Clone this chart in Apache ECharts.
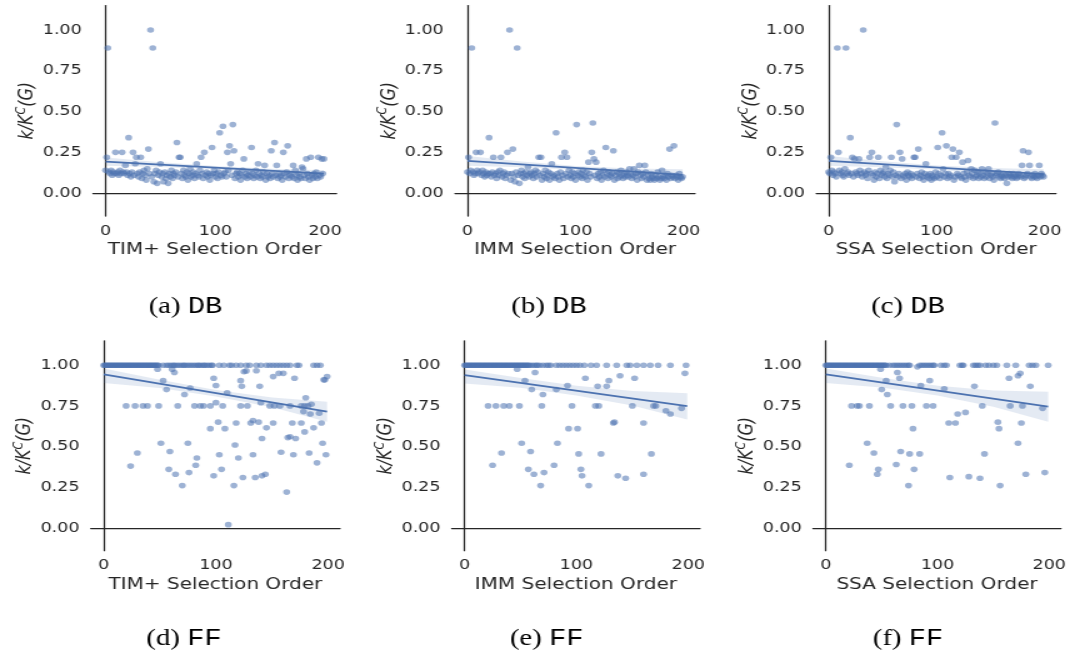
<!DOCTYPE html>
<html lang="en">
<head>
<meta charset="UTF-8">
<title>Selection order vs k/K^C(G)</title>
<script src="https://cdn.jsdelivr.net/npm/echarts@6.0.0/dist/echarts.min.js"></script>
<style>
  html, body { margin: 0; padding: 0; background: #fff; overflow: hidden; }
  /* the source figure is stretched sideways, so the chart is drawn narrow and widened */
  #chart { width: 858.4px; height: 657px; transform: scaleX(1.25); transform-origin: 0 0; }
</style>
</head>
<body>
<div id="chart"></div>
<script>
// k/K^C(G) for every seed, indexed by selection order (DB network)
var dbTim = [
  .14, .22, .89, .13, .12, .14, .11, .13, .12, .25,
  .12, .13, .11, .14, .12, .25, .13, .12, .17, .13,
  .11, .34, .12, .10, .13, .25, .11, .18, .22, .12,
  .10, .13, .22, .09, .12, .14, .11, .08, .15, .27,
  .12, 1.0, .10, .89, .07, .12, .14, .06, .11, .13,
  .18, .10, .12, .07, .13, .09, .11, .06, .12, .10,
  .14, .09, .12, .11, .13, .31, .10, .22, .22, .12,
  .09, .14, .11, .10, .13, .08, .12, .15, .10, .11,
  .13, .09, .12, .18, .11, .10, .14, .22, .12, .09,
  .25, .11, .13, .10, .12, .08, .11, .28, .12, .14,
  .10, .12, .09, .13, .37, .11, .10, .41, .12, .13,
  .10, .25, .14, .29, .18, .11, .42, .26, .09, .12,
  .13, .10, .12, .08, .11, .14, .21, .10, .12, .09,
  .11, .13, .10, .28, .12, .09, .11, .14, .10, .18,
  .12, .09, .11, .10, .13, .17, .08, .12, .10, .11,
  .09, .26, .12, .10, .31, .11, .17, .09, .12, .10,
  .11, .08, .25, .12, .10, .13, .29, .09, .11, .12,
  .10, .17, .09, .14, .11, .08, .12, .10, .09, .16,
  .15, .11, .09, .21, .12, .10, .08, .22, .11, .09,
  .12, .10, .13, .09, .22, .11, .10, .21, .12, .21
]
var dbImm = [
  .13, .22, .12, .14, .89, .13, .11, .12, .25, .14,
  .12, .13, .25, .11, .14, .12, .10, .13, .11, .12,
  .34, .12, .10, .13, .22, .11, .12, .09, .13, .11,
  .14, .22, .10, .12, .13, .09, .11, .25, .12, 1.0,
  .08, .12, .27, .10, .07, .13, .89, .11, .06, .12,
  .14, .10, .12, .09, .13, .11, .16, .10, .12, .13,
  .11, .09, .12, .14, .10, .13, .22, .11, .22, .08,
  .12, .10, .14, .09, .11, .13, .08, .12, .18, .10,
  .11, .09, .37, .12, .10, .08, .13, .22, .11, .09,
  .25, .12, .22, .10, .14, .11, .09, .13, .10, .12,
  .08, .42, .11, .13, .10, .12, .09, .14, .11, .10,
  .13, .08, .19, .12, .10, .25, .43, .21, .11, .19,
  .09, .12, .10, .13, .08, .11, .14, .10, .28, .12,
  .09, .13, .11, .10, .12, .26, .08, .11, .13, .09,
  .12, .10, .14, .11, .09, .12, .10, .13, .11, .10,
  .15, .12, .09, .11, .15, .10, .12, .08, .13, .17,
  .11, .09, .12, .10, .17, .13, .08, .11, .09, .08,
  .12, .10, .09, .08, .11, .09, .13, .10, .08, .09,
  .14, .10, .09, .11, .08, .12, .10, .27, .09, .11,
  .10, .29, .09, .11, .10, .08, .12, .10, .09, .10
]
var dbSsa = [
  .13, .12, .22, .14, .11, .13, .12, .10, .89, .25,
  .14, .12, .13, .11, .10, .15, .89, .12, .13, .11,
  .34, .12, .22, .10, .21, .13, .12, .11, .21, .14,
  .12, .10, 1.0, .13, .11, .12, .09, .14, .22, .12,
  .25, .11, .08, .13, .10, .12, .22, .09, .14, .11,
  .12, .13, .10, .16, .09, .12, .11, .14, .22, .10,
  .13, .07, .11, .42, .10, .12, .25, .09, .21, .11,
  .10, .12, .08, .13, .11, .10, .12, .09, .11, .22,
  .22, .10, .12, .27, .09, .11, .13, .10, .08, .12,
  .18, .10, .11, .09, .12, .08, .11, .10, .09, .13,
  .10, .28, .12, .09, .11, .37, .15, .10, .12, .29,
  .09, .12, .10, .11, .22, .27, .08, .10, .22, .12,
  .11, .25, .10, .09, .19, .12, .10, .08, .13, .20,
  .11, .10, .15, .12, .09, .14, .10, .11, .13, .09,
  .12, .10, .15, .11, .09, .13, .10, .12, .15, .09,
  .11, .12, .10, .08, .43, .11, .12, .13, .10, .09,
  .11, .10, .12, .09, .11, .06, .10, .12, .11, .10,
  .09, .12, .10, .11, .09, .10, .12, .11, .10, .17,
  .26, .09, .10, .11, .12, .25, .17, .10, .09, .11,
  .10, .12, .10, .09, .11, .17, .10, .12, .11, .10
]

// FF network: selection orders whose ratio is 1.00, and the remaining [order, ratio] points
var ffTimAtOne = [
  0, 1, 2, 3, 4, 5, 6, 7, 8, 9, 10, 11, 12, 13, 14, 15, 16, 17, 18, 19,
  20, 21, 22, 23, 24, 25, 26, 27, 28, 29, 30, 31, 32, 33, 34, 35, 36, 37, 38, 39,
  40, 41, 42, 43, 44, 45, 46, 47, 48, 49,
  53, 56, 58, 60, 62, 63, 65, 67, 69, 71, 72, 74, 76, 78, 80, 82, 84, 85, 87, 89,
  90, 92, 94, 96, 97, 103, 107, 112, 114, 118, 122, 127, 130, 136, 140, 145, 148,
  151, 154, 157, 160, 163, 166, 172, 174, 187, 190, 193
]
var ffTimBelow = [
  [20, .75], [24, .38], [28, .75], [30, .46], [35, .75], [39, .75], [48, .975], [49, .75],
  [51, .52], [53, .905], [56, .85], [58, .36], [59, .47], [61, .975], [63, .955], [64, .33],
  [66, .75], [70, .26], [72, .82], [75, .52], [76, .34], [77, .86], [81, .75], [82, .385],
  [83, .43], [86, .75], [89, .75], [95, .61], [95, .75], [98, .92], [98, .32], [100, .875],
  [100, .77], [102, .65], [103, .45], [105, .36], [106, .75], [108, .61], [110, .83], [111, .02],
  [116, .26], [117, .51], [118, .645], [120, .43], [122, .75], [122, .905], [123, .87], [124, .31],
  [125, .96], [127, .965], [128, .75], [131, .645], [133, .66], [133, .45], [135, .31], [136, .966],
  [138, .65], [139, .87], [140, .77], [141, .55], [141, .32], [144, .33], [145, .615], [148, .75],
  [151, .93], [151, .645], [152, .75], [156, .95], [157, .75], [158, .465], [160, .95], [163, .22],
  [164, .555], [166, .75], [166, .56], [168, .645], [169, .45], [170, .92], [171, .55], [176, .75],
  [176, .645], [178, .715], [179, .59], [179, .75], [180, .80], [182, .75], [183, .46], [184, .70],
  [185, .76], [187, .615], [190, .40], [192, .705], [194, .645], [195, .52], [196, .91], [197, .91],
  [198, .45], [199, .93]
]
var ffImmAtOne = [
  0, 1, 2, 3, 4, 5, 6, 7, 8, 9, 10, 11, 12, 13, 14, 15, 16, 17, 18, 19,
  20, 21, 22, 23, 24, 25, 26, 27, 28, 29, 30, 31, 32, 33, 34, 35, 36, 37, 38, 39,
  40, 41, 42, 43, 44, 45, 46, 47, 48, 49, 50, 51, 52, 53, 54, 55, 56, 57, 58,
  60, 62, 64, 65, 67, 70, 73, 75, 77, 82, 85, 88, 91, 94, 97, 100, 103, 107, 113,
  118, 127, 136, 145, 148, 154, 160, 166, 173, 184, 198
]
var ffImmBelow = [
  [21, .75], [25, .385], [28, .75], [33, .46], [35, .75], [40, .75], [47, .975], [49, .75],
  [51, .52], [54, .905], [57, .36], [59, .47], [60, .85], [62, .33], [63, .955], [68, .26],
  [69, .75], [70, .82], [71, .34], [80, .385], [82, .85], [83, .52], [92, .875], [93, .61],
  [96, .75], [101, .61], [102, .455], [104, .36], [105, .32], [108, .92], [111, .26], [117, .75],
  [119, .87], [120, .75], [122, .455], [127, .87], [129, .905], [133, .645], [134, .65], [137, .32],
  [139, .935], [144, .305], [150, .75], [152, .92], [160, .645], [160, .33], [167, .455], [169, .75],
  [171, .75], [180, .72], [184, .70], [194, .735], [197, .95]
]
var ffSsaAtOne = [
  0, 1, 2, 3, 4, 5, 6, 7, 8, 9, 10, 11, 12, 13, 14, 15, 16, 17, 18, 19,
  20, 21, 22, 23, 24, 25, 26, 27, 28, 29, 30, 31, 32, 33, 34, 35, 36, 37, 38, 39,
  40, 41, 42, 43, 44, 45, 46, 47, 48, 49, 50, 51, 52, 53, 54,
  57, 60, 62, 64, 66, 68, 70, 72, 74, 75, 84, 86, 88, 90, 92, 94, 96, 97, 103, 106,
  108, 120, 122, 123, 132, 134, 136, 138, 143, 146, 150, 153, 162, 170, 182, 185, 188, 199
]
var ffSsaBelow = [
  [21, .385], [23, .75], [28, .75], [30, .75], [37, .52], [39, .75], [43, .46], [46, .33],
  [47, .36], [49, .975], [50, .85], [54, .905], [55, .82], [58, .75], [63, .39], [64, .955],
  [66, .92], [67, .47], [69, .75], [74, .26], [75, .455], [77, .75], [78, .61], [79, .36],
  [82, .99], [84, .455], [85, .875], [90, .75], [93, .905], [96, .75], [106, .855], [110, .645],
  [111, .31], [116, .645], [118, .70], [125, .71], [128, .315], [133, .87], [138, .305], [140, .75],
  [142, .455], [154, .65], [155, .61], [156, .26], [164, .92], [165, .75], [172, .935], [172, .52],
  [174, .95], [175, .645], [176, .75], [179, .33], [183, .87], [194, .735], [196, .34]
]

// fitted line (at lineX) and its confidence band (lower / upper at bandX)
var lineX = [0, 199]
var bandX = [0, 50, 100, 150, 199]
var fitDbTim = [0.193, 0.120], loDbTim = [.168, .160, .146, .126, .100], hiDbTim = [.218, .190, .166, .150, .140]
var fitDbImm = [0.198, 0.112], loDbImm = [.168, .158, .143, .115, .077], hiDbImm = [.228, .194, .167, .151, .147]
var fitDbSsa = [0.198, 0.116], loDbSsa = [.168, .159, .145, .118, .086], hiDbSsa = [.228, .195, .169, .154, .146]
var fitFfTim = [0.943, 0.714], loFfTim = [.890, .860, .808, .741, .653], hiFfTim = [.980, .910, .848, .801, .775]
var fitFfImm = [0.939, 0.749], loFfImm = [.888, .861, .814, .752, .667], hiFfImm = [.974, .921, .874, .842, .827]
var fitFfSsa = [0.943, 0.745], loFfSsa = [.890, .863, .814, .744, .653], hiFfSsa = [.980, .923, .874, .844, .837]

var xTicks = [0, 100, 200]
var yTicks = [0, 0.25, 0.5, 0.75, 1.0]

var blue = '#4c72b0'
var ink = '#262626'

function byOrder(arr) {
  return arr.map(function (v, i) { return [i, v] })
}
function withOnes(ones, below) {
  return ones.map(function (x) { return [x, 1] }).concat(below)
}

var panels = [
  { xName: 'TIM+ Selection Order', cap: '(a) ', tag: 'DB', pts: byOrder(dbTim), fit: fitDbTim, lo: loDbTim, hi: hiDbTim,
    grid: { left: 74.4, top: 5.5, width: 194.8, height: 210.5 }, capPos: [148.4, 306.5] },
  { xName: 'IMM Selection Order', cap: '(b) ', tag: 'DB', pts: byOrder(dbImm), fit: fitDbImm, lo: loDbImm, hi: hiDbImm,
    grid: { left: 364, top: 5.5, width: 192, height: 210.5 }, capPos: [439.2, 306.5] },
  { xName: 'SSA Selection Order', cap: '(c) ', tag: 'DB', pts: byOrder(dbSsa), fit: fitDbSsa, lo: loDbSsa, hi: hiDbSsa,
    grid: { left: 653, top: 5.5, width: 191.8, height: 210.5 }, capPos: [726.4, 306.5] },
  { xName: 'TIM+ Selection Order', cap: '(d) ', tag: 'FF', pts: withOnes(ffTimAtOne, ffTimBelow), fit: fitFfTim, lo: loFfTim, hi: hiFfTim,
    grid: { left: 72.6, top: 340.8, width: 199.4, height: 209.9 }, capPos: [147.2, 638.5] },
  { xName: 'IMM Selection Order', cap: '(e) ', tag: 'FF', pts: withOnes(ffImmAtOne, ffImmBelow), fit: fitFfImm, lo: loFfImm, hi: hiFfImm,
    grid: { left: 361.4, top: 340.8, width: 198.6, height: 209.9 }, capPos: [437.4, 638.5] },
  { xName: 'SSA Selection Order', cap: '(f) ', tag: 'FF', pts: withOnes(ffSsaAtOne, ffSsaBelow), fit: fitFfSsa, lo: loFfSsa, hi: hiFfSsa,
    grid: { left: 650.4, top: 340.8, width: 198.4, height: 209.9 }, capPos: [726.4, 638.5] }
]

var grids = [], xAxes = [], yAxes = [], series = [], graphics = []

panels.forEach(function (p, i) {
  grids.push(p.grid)
  xAxes.push({
    type: 'value', gridIndex: i, min: -11.5, max: 210.5,
    name: p.xName, nameLocation: 'middle', nameGap: 26,
    nameTextStyle: { fontFamily: 'DejaVu Sans', fontSize: 16, color: ink },
    axisLine: { show: true, lineStyle: { color: ink, width: 1.25 } },
    axisTick: { show: false },
    splitLine: { show: false },
    axisLabel: { customValues: xTicks, margin: 8, fontFamily: 'DejaVu Sans', fontSize: 14, color: ink }
  })
  yAxes.push({
    type: 'value', gridIndex: i, min: -0.14, max: 1.15,
    name: '{i|k/K}{s|C}{i|(G)}', nameLocation: 'middle', nameGap: 42, nameRotate: 90,
    nameTextStyle: {
      rich: {
        i: { fontFamily: 'DejaVu Sans', fontStyle: 'italic', fontSize: 16, color: ink },
        s: { fontFamily: 'DejaVu Sans', fontStyle: 'italic', fontSize: 11, color: ink, padding: [0, 0, 10, 0] }
      }
    },
    axisLine: { show: true, lineStyle: { color: ink, width: 1.25 } },
    axisTick: { show: false },
    splitLine: { show: false },
    axisLabel: {
      customValues: yTicks, margin: 9, fontFamily: 'DejaVu Sans', fontSize: 14, color: ink,
      formatter: function (v) { return Number(v).toFixed(2) }
    }
  })
  series.push({
    type: 'scatter', xAxisIndex: i, yAxisIndex: i, z: 2, silent: true,
    symbol: 'circle', symbolSize: 5.6,
    itemStyle: { color: blue, opacity: 0.55 },
    data: p.pts
  })
  series.push({
    type: 'custom', xAxisIndex: i, yAxisIndex: i, z: 3, silent: true,
    data: [[0, 0]],
    renderItem: function (params, api) {
      var pts = [], k
      for (k = 0; k < bandX.length; k++) pts.push(api.coord([bandX[k], p.hi[k]]))
      for (k = bandX.length - 1; k >= 0; k--) pts.push(api.coord([bandX[k], p.lo[k]]))
      return { type: 'polygon', shape: { points: pts }, style: { fill: 'rgba(76,114,176,0.15)' } }
    }
  })
  series.push({
    type: 'line', xAxisIndex: i, yAxisIndex: i, z: 4, silent: true,
    symbol: 'none', lineStyle: { color: blue, width: 1.8 },
    data: lineX.map(function (x, k) { return [x, p.fit[k]] })
  })
  graphics.push({
    type: 'text', x: p.capPos[0], y: p.capPos[1],
    style: {
      text: p.cap + '{tt|' + p.tag + '}',
      fontFamily: 'Liberation Serif', fontSize: 23, fill: '#000',
      align: 'center', verticalAlign: 'middle',
      rich: { tt: { fontFamily: 'Liberation Mono', fontSize: 23, fill: '#000' } }
    }
  })
})

var chart = echarts.init(document.getElementById('chart'))
chart.setOption({
  backgroundColor: '#fff',
  animation: false,
  grid: grids,
  xAxis: xAxes,
  yAxis: yAxes,
  series: series,
  graphic: graphics
})
</script>
</body>
</html>
